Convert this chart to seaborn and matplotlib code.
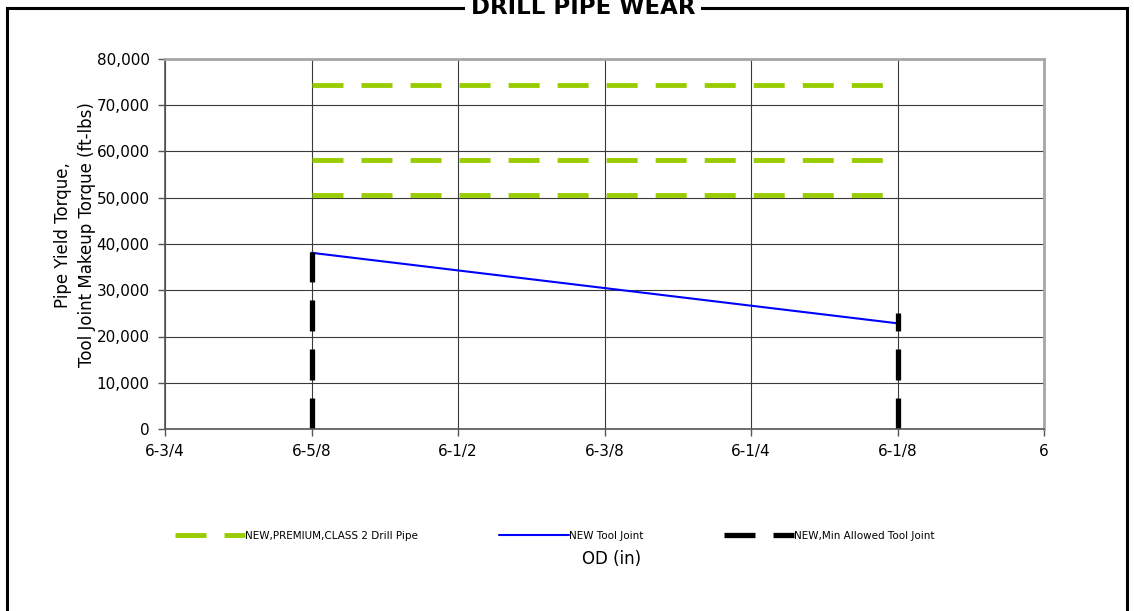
import matplotlib
matplotlib.use("Agg")
import pandas as pd
import matplotlib.pyplot as plt
import seaborn as sns
from matplotlib.lines import Line2D
from matplotlib.patches import Rectangle

# ---------------------------------
# Chart data
# ---------------------------------

od_ticks = [6.75, 6.625, 6.5, 6.375, 6.25, 6.125, 6.0]
od_labels = ["6-3/4", "6-5/8", "6-1/2", "6-3/8", "6-1/4", "6-1/8", "6"]
torque_ticks = [0, 10000, 20000, 30000, 40000, 50000, 60000, 70000, 80000]

pipe_od = [6.625, 6.125]
pipe_new = [74300, 74300]
pipe_premium = [58100, 58100]
pipe_class2 = [50500, 50500]

tool_joint_od = [6.625, 6.125]
tool_joint_new = [38100, 22850]

min_tj_left_od = [6.625, 6.625]
min_tj_left_torque = [0, 38200]
min_tj_right_od = [6.125, 6.125]
min_tj_right_torque = [0, 25100]

legend_labels = [
    "NEW,PREMIUM,CLASS 2 Drill Pipe",
    "NEW Tool Joint",
    "NEW,Min Allowed Tool Joint",
]

# ---------------------------------
# Style
# ---------------------------------

sns.set_theme(style="white")
plt.rcParams["font.family"] = ["DejaVu Sans"]
plt.rcParams["text.color"] = "black"
plt.rcParams["lines.scale_dashes"] = False

green = "#99CC00"
blue = "#0000FF"
long_dash = (0, (22.3, 13))

W, H = 1134, 611
fig = plt.figure(figsize=(W / 100, H / 100), dpi=100)
ax = fig.add_axes([165 / W, 1 - 429 / H, (1044 - 165) / W, (429 - 59) / H])

# ---------------------------------
# Lines
# ---------------------------------

for values in [pipe_new, pipe_premium, pipe_class2]:
    df = pd.DataFrame({"od": pipe_od, "torque": values})
    sns.lineplot(data=df, x="od", y="torque", ax=ax, color=green,
                 linewidth=3.5, linestyle=long_dash, estimator=None,
                 sort=False, legend=False)

df_tj = pd.DataFrame({"od": tool_joint_od, "torque": tool_joint_new})
sns.lineplot(data=df_tj, x="od", y="torque", ax=ax, color=blue,
             linewidth=1.5, estimator=None, sort=False, legend=False)

for xs, ys in [(min_tj_left_od, min_tj_left_torque),
               (min_tj_right_od, min_tj_right_torque)]:
    df = pd.DataFrame({"od": xs, "torque": ys})
    sns.lineplot(data=df, x="od", y="torque", ax=ax, color="black",
                 linewidth=3.8, linestyle=long_dash, estimator=None,
                 sort=False, legend=False, orient="y")

# ---------------------------------
# Axes
# ---------------------------------

ax.set_xlim(6.75, 6.0)
ax.set_ylim(0, 80000)
ax.set_xticks(od_ticks, od_labels)
ax.set_yticks(torque_ticks, [f"{v:,}" for v in torque_ticks])
ax.set_xlabel("")
ax.set_ylabel("")
ax.grid(True, color="#3a3a3a", linewidth=0.8)
ax.set_axisbelow(True)

for side in ["left", "bottom"]:
    ax.spines[side].set_color("#555555")
    ax.spines[side].set_linewidth(1.2)
for side in ["top", "right"]:
    ax.spines[side].set_color("#a6a6a6")
    ax.spines[side].set_linewidth(2)

ax.tick_params(axis="both", bottom=True, left=True, direction="out",
               length=5, width=1, color="#555555", labelsize=11,
               labelcolor="black", pad=6)

fig.text(75 / W, 1 - 235 / H,
         "Pipe Yield Torque,\nTool Joint Makeup Torque (ft-lbs)",
         rotation=90, ha="center", va="center", multialignment="center",
         fontsize=12, linespacing=1.45)

fig.text(612 / W, 1 - 559 / H, "OD (in)", ha="center", va="center",
         fontsize=12)

# ---------------------------------
# Legend
# ---------------------------------

handles = [
    Line2D([], [], color=green, linewidth=3.5, linestyle=long_dash),
    Line2D([], [], color=blue, linewidth=1.5),
    Line2D([], [], color="black", linewidth=3.8, linestyle=long_dash),
]
legend_x = [175, 499, 724]

for handle, label, x0 in zip(handles, legend_labels, legend_x):
    fig.legend([handle], [label], loc="center left",
               bbox_to_anchor=(x0 / W, 1 - 536 / H), frameon=False,
               fontsize=7.5, handlelength=6.7, handletextpad=0,
               borderpad=0, borderaxespad=0)

# ---------------------------------
# Outer frame and title
# ---------------------------------

fig.add_artist(Rectangle((7 / W, -0.1), (1127 - 7) / W, 1 - 8 / H + 0.1,
                         transform=fig.transFigure, fill=False,
                         edgecolor="black", linewidth=2.2, zorder=1))

fig.text(583 / W, 1 - 14 / H, "DRILL PIPE WEAR", ha="center",
         va="baseline", fontsize=16.5, fontweight="bold", zorder=3,
         color="black",
         bbox=dict(facecolor="white", edgecolor="none", pad=4.5))

fig.savefig("out.png", dpi=100)
